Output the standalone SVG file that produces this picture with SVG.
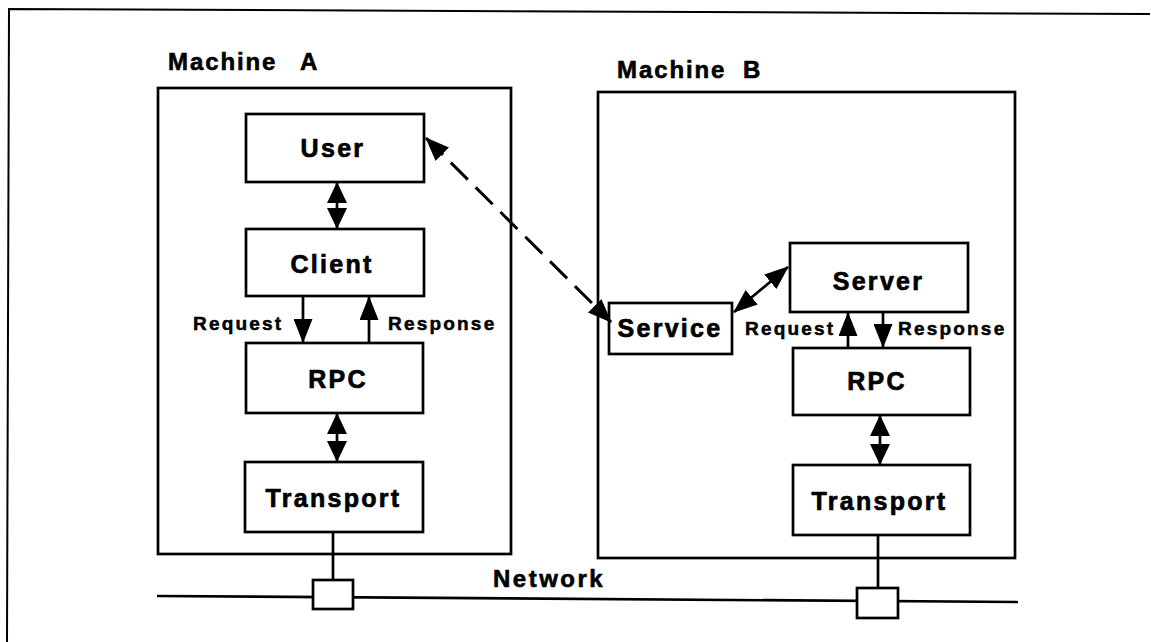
<svg xmlns="http://www.w3.org/2000/svg" width="1151" height="642" viewBox="0 0 1151 642">
<style>
  .box { fill: #fff; stroke: #000; stroke-width: 2.7; }
  .frame { fill: none; stroke: #000; stroke-width: 2; }
  .lbl { font-family: "Liberation Sans", Arial, Helvetica, sans-serif; font-weight: bold; font-size: 25px; letter-spacing: 2.3px; fill: #000; stroke: #000; stroke-width: 0.7; text-anchor: middle; }
  .title { font-family: "Liberation Sans", Arial, Helvetica, sans-serif; font-weight: bold; font-size: 24px; letter-spacing: 1.9px; fill: #000; stroke: #000; stroke-width: 0.6; }
  .small { font-family: "Liberation Sans", Arial, Helvetica, sans-serif; font-weight: bold; font-size: 19px; letter-spacing: 2.2px; fill: #000; stroke: #000; stroke-width: 0.5; }
  .conn { fill: none; stroke: #000; stroke-width: 2.7; }
  .dash { stroke-width: 3; stroke-dasharray: 24 11; }
</style>
<defs>
  <marker id="ah" viewBox="0 0 21 20" refX="20" refY="10" markerWidth="21" markerHeight="20" markerUnits="userSpaceOnUse" orient="auto-start-reverse">
    <path d="M0,0 L21,10 L0,20 z" fill="#000"/>
  </marker>
  <marker id="ahl" viewBox="0 0 24 19" refX="23" refY="9.5" markerWidth="24" markerHeight="19" markerUnits="userSpaceOnUse" orient="auto-start-reverse">
    <path d="M0,0 L24,9.5 L0,19 z" fill="#000"/>
  </marker>
</defs>
<rect width="1151" height="642" fill="#fff"/>
<polyline class="frame" points="7,642 9,9 1150,14"/>

<g id="machineA">
  <rect class="box" x="158" y="88" width="353" height="466"/>
  <text class="title" x="168" y="70">Machine<tspan x="300">A</tspan></text>
</g>
<g id="machineB">
  <rect class="box" x="598" y="92" width="417" height="466"/>
  <text class="title" x="617" y="78">Machine<tspan x="743">B</tspan></text>
</g>

<g id="userA">
  <rect class="box" x="246" y="114" width="178" height="68"/>
  <text class="lbl" x="333" y="157">User</text>
</g>
<g id="clientA">
  <rect class="box" x="246" y="229" width="178" height="67"/>
  <text class="lbl" x="332" y="273">Client</text>
</g>
<g id="rpcA">
  <rect class="box" x="246" y="343" width="177" height="70"/>
  <text class="lbl" x="338" y="388">RPC</text>
</g>
<g id="transportA">
  <rect class="box" x="245" y="462" width="178" height="70"/>
  <text class="lbl" x="333.5" y="507">Transport</text>
</g>

<g id="serverB">
  <rect class="box" x="790" y="243" width="178" height="69"/>
  <text class="lbl" x="878.5" y="290">Server</text>
</g>
<g id="serviceB">
  <rect class="box" x="609" y="303" width="123" height="51"/>
  <text class="lbl" x="670" y="337">Service</text>
</g>
<g id="rpcB">
  <rect class="box" x="793" y="348" width="177" height="67"/>
  <text class="lbl" x="877" y="390">RPC</text>
</g>
<g id="transportB">
  <rect class="box" x="793" y="465" width="177" height="70"/>
  <text class="lbl" x="879.5" y="510">Transport</text>
</g>

<g id="network">
  <line class="conn" x1="157" y1="596" x2="1018" y2="602"/>
  <text class="title" x="493" y="587" style="letter-spacing:2.5px">Network</text>
</g>

<g id="connectors">
  <line class="conn" x1="337" y1="183" x2="337" y2="228" marker-start="url(#ah)" marker-end="url(#ah)"/>
  <line class="conn" x1="303" y1="296" x2="303" y2="342" marker-end="url(#ahl)"/>
  <line class="conn" x1="369" y1="343" x2="369" y2="297" marker-end="url(#ahl)"/>
  <line class="conn" x1="337" y1="414" x2="337" y2="461" marker-start="url(#ah)" marker-end="url(#ah)"/>
  <line class="conn" x1="333" y1="532" x2="333" y2="580"/>
  <line class="conn dash" x1="426" y1="138" x2="611" y2="322" marker-start="url(#ahl)" marker-end="url(#ahl)"/>
  <line class="conn" x1="734" y1="312" x2="788" y2="267" marker-start="url(#ahl)" marker-end="url(#ahl)"/>
  <line class="conn" x1="848" y1="348" x2="848" y2="313" marker-end="url(#ahl)"/>
  <line class="conn" x1="883" y1="312" x2="883" y2="347" marker-end="url(#ahl)"/>
  <line class="conn" x1="880" y1="416" x2="880" y2="464" marker-start="url(#ah)" marker-end="url(#ah)"/>
  <line class="conn" x1="878" y1="535" x2="878" y2="588"/>
  <rect class="box" x="313" y="580" width="40" height="29"/>
  <rect class="box" x="857" y="588" width="41" height="30"/>
</g>

<g id="labels">
  <text class="small" x="193" y="330">Request</text>
  <text class="small" x="388" y="330">Response</text>
  <text class="small" x="745" y="335">Request</text>
  <text class="small" x="898" y="335">Response</text>
</g>
</svg>
